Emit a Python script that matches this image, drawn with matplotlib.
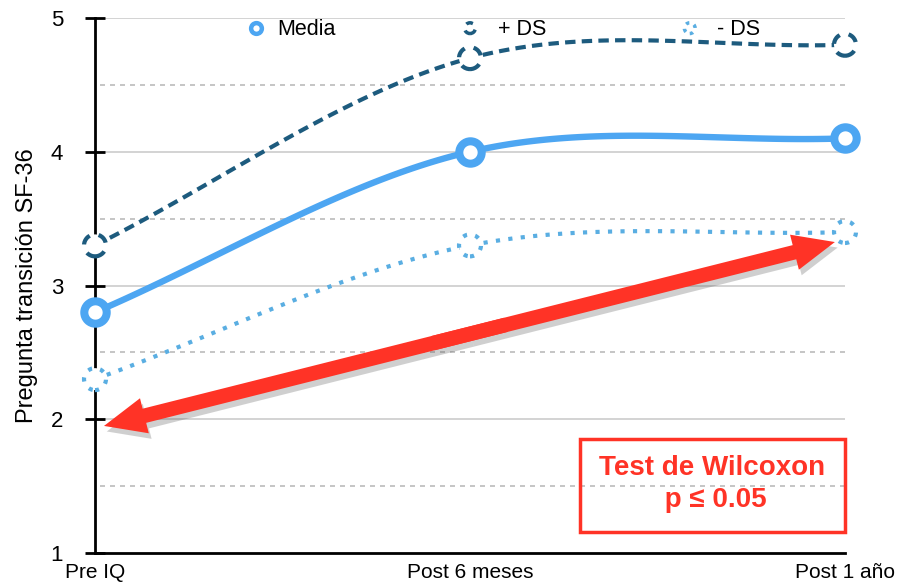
import numpy as np
import matplotlib
matplotlib.use("Agg")
import matplotlib.pyplot as plt
from matplotlib.patches import FancyArrowPatch, Rectangle, ArrowStyle
import matplotlib.patheffects as pe

plt.rcParams['font.family'] = ['Liberation Sans', 'DejaVu Sans']

categories = ["Pre IQ", "Post 6 meses", "Post 1 año"]
media = [2.8, 4.0, 4.1]
mas_ds = [3.3, 4.7, 4.8]
menos_ds = [2.3, 3.3, 3.4]
yticks = [1, 2, 3, 4, 5]
ylabel = "Pregunta transición SF-36"
box_text = "Test de Wilcoxon\n p ≤ 0.05"

c_media = "#4DA6F2"
c_mas = "#1D5B7E"
c_menos = "#5AAEE2"
c_red = "#FF3326"

def smooth(xs, ys, n=60):
    xs = np.asarray(xs, float); ys = np.asarray(ys, float)
    m = np.zeros_like(ys)
    m[0] = (ys[1] - ys[0]) / (xs[1] - xs[0])
    m[-1] = (ys[-1] - ys[-2]) / (xs[-1] - xs[-2])
    for i in range(1, len(ys) - 1):
        m[i] = (ys[i + 1] - ys[i - 1]) / (xs[i + 1] - xs[i - 1])
    ox, oy = [], []
    for i in range(len(xs) - 1):
        h = xs[i + 1] - xs[i]
        t = np.linspace(0, 1, n)
        h00 = 2*t**3 - 3*t**2 + 1; h10 = t**3 - 2*t**2 + t
        h01 = -2*t**3 + 3*t**2; h11 = t**3 - t**2
        ox.append(xs[i] + t*h)
        oy.append(h00*ys[i] + h10*h*m[i] + h01*ys[i+1] + h11*h*m[i+1])
    return np.concatenate(ox), np.concatenate(oy)

fig = plt.figure(figsize=(9.03, 5.87), dpi=100)
ax = fig.add_axes([95/903, 34/587, 750/903, 535/587])
x = np.arange(len(categories))

# grid
for v in yticks[1:]:
    ax.axhline(v, color="#CCCCCC", lw=1.2, zorder=0)
for v in np.array(yticks[:-1]) + 0.5:
    ax.axhline(v, xmin=0.007, color="#BBBBBB", lw=1.2, ls=(0, (3, 3)), zorder=0)

sx, sy = smooth(x, mas_ds)
ax.plot(sx, sy, color=c_mas, lw=3.0, ls=(0, (2.5, 1.5)), clip_on=False, zorder=3)
sx, sy = smooth(x, menos_ds)
ax.plot(sx, sy, color=c_menos, lw=3.0, ls=(0, (1, 2.0)), clip_on=False, zorder=3)
sx, sy = smooth(x, media)
ax.plot(sx, sy, color=c_media, lw=4.6, solid_capstyle='round', clip_on=False, zorder=4)

s_mas = ax.scatter(x, mas_ds, s=250, facecolor="white", edgecolor=c_mas, linewidths=3,
                   linestyle=(0, (2.6, 2.2)), clip_on=False, zorder=5)
s_menos = ax.scatter(x, menos_ds, s=250, facecolor="white", edgecolor=c_menos, linewidths=3,
                     linestyle=(0, (1, 2.0)), clip_on=False, zorder=5)
s_media = ax.scatter(x, media, s=260, facecolor="white", edgecolor=c_media, linewidths=5.8,
                     clip_on=False, zorder=6)

ax.set_xlim(0, 2)
ax.set_ylim(1, 5)
ax.set_yticks(yticks)
ax.set_xticks(x)
ax.set_xticklabels(categories, fontsize=15)
ax.tick_params(axis='x', length=0, pad=7)
ax.tick_params(axis='y', direction='inout', length=14, width=2, labelsize=16, pad=16)
for s in ['top', 'right']:
    ax.spines[s].set_visible(False)
ax.spines['left'].set_linewidth(2)
ax.spines['bottom'].set_linewidth(2)
ax.set_ylabel(ylabel, fontsize=17, labelpad=9)

# legend (manual)
leg = [("Media", c_media, 'solid', 3.2, 0.215, 0.243),
       ("+ DS", c_mas, (0, (2, 2)), 2.5, 0.5, 0.538),
       ("- DS", c_menos, (0, (1, 1.5)), 2.5, 0.793, 0.83)]
for lab, col, ls, lw, mx, tx in leg:
    ax.scatter([mx], [0.981], s=60, facecolor="white", edgecolor=col,
               linewidths=lw, linestyle=ls, transform=ax.transAxes, clip_on=False, zorder=7)
    ax.text(tx, 0.979, lab, transform=ax.transAxes, fontsize=15.5, va='center', ha='left')

# double-headed arrow: two filled "simple" arrows
p_left = np.array([0.024, 1.95])
p_right = np.array([1.973, 3.325])
mid = p_left + 0.5 * (p_right - p_left)
style = ArrowStyle('simple', head_length=3.0, head_width=2.6, tail_width=1.05)
shadow = [pe.SimplePatchShadow(offset=(2, -4), shadow_rgbFace='#555555', alpha=0.28)]
# shadows (meeting exactly at the midpoint, no overlap)
for tip in (p_left, p_right):
    a = FancyArrowPatch(tuple(mid), tuple(tip), arrowstyle=style, mutation_scale=10, lw=0,
                        color=c_red, alpha=0, shrinkA=0, shrinkB=0, zorder=7.9,
                        path_effects=shadow)
    ax.add_patch(a)
# red bodies (overlapping in the middle so no seam)
for start, tip in ((p_left + 0.55 * (p_right - p_left), p_left),
                   (p_left + 0.45 * (p_right - p_left), p_right)):
    a = FancyArrowPatch(tuple(start), tuple(tip), arrowstyle=style, mutation_scale=10, lw=0,
                        color=c_red, shrinkA=0, shrinkB=0, zorder=8.0)
    ax.add_patch(a)

# text box
ax.add_patch(Rectangle((1.293, 1.16), 0.707, 0.695, fill=False, edgecolor=c_red, lw=2.5,
                       zorder=8, clip_on=False))
ax.text(1.645, 1.515, box_text, color=c_red, fontsize=20, fontweight='bold', ha='center',
        va='center', linespacing=1.3, zorder=9)

fig.savefig("out.png", dpi=100)
